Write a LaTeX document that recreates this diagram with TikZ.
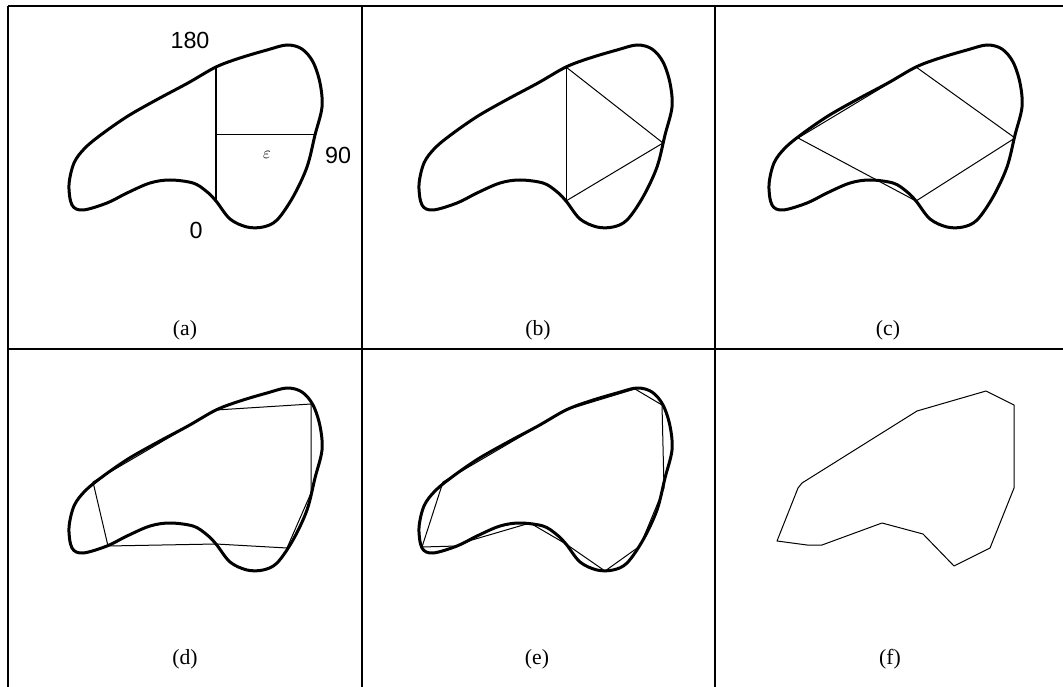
\documentclass[tikz,border=0pt]{standalone}
\usepackage{fontspec}
\setmainfont{Liberation Serif}
\newfontfamily\chiffres{Liberation Sans}

\tikzset{
    cadre/.style={line width=1.2pt},
    courbe/.style={line width=1.8pt, line join=round},
    corde/.style={line width=0.6pt, line join=round},
    legende/.style={font=\fontsize{13}{15}\selectfont},
    graduation/.style={font=\chiffres\fontsize{14}{16}\selectfont},
}

\begin{document}
\begin{tikzpicture}[x=0.6pt, y=-0.6pt]
    \useasboundingbox (0,0) rectangle (1063,687);

    % Grille du tableau
    \draw[cadre] (8,6) -- (1063,6);
    \draw[cadre] (8,349) -- (1063,349);
    \foreach \xc in {8,362,715}
        \draw[cadre] (\xc,6) -- (\xc,687);

    % Contour ferme, repris dans les cinq premieres cases
    \foreach \dx/\dy in {0/0,350/0,700/0,0/343,350/343}
        \draw[courbe, shift={(\dx,\dy)}] plot[smooth cycle, tension=0.55] coordinates {
            (69,185) (74,163) (85,148) (102,134) (128,116) (158,99)
            (188,83) (216,67) (240,58) (267,50) (287,45) (302,49) (313,62)
            (320,83) (322,107) (315,135) (307,167) (293,197) (277,220)
            (263,227) (247,227) (230,219) (216,201) (206,191) (193,183)
            (170,180) (150,183) (127,193) (107,203) (83,210) (72,205)};

    % (a) diametre et largeur
    \draw[line width=1.2pt] (216,67) -- (216,201);
    \draw[corde] (216,135) -- (315,135);
    \node[graduation] (g180) at (190,40) {180};
    \node[graduation] (g90) at (338,155) {90};
    \node[graduation] (g0) at (196,230) {0};
    \node (eps) at (267,155) {$\varepsilon$};
    \node[legende] (ca) at (185,330) {(a)};

    % (b) triangle
    \begin{scope}[shift={(350,0)}]
        \draw[corde] (216,67) -- (216,201);
        \draw[corde] (216,67) -- (313,143) -- (216,201);
    \end{scope}
    \node[legende] (cb) at (538,330) {(b)};

    % (c) losange
    \begin{scope}[shift={(700,0)}]
        \draw[corde] (216,67) -- (315,138) -- (216,201) -- (98,138) -- cycle;
    \end{scope}
    \node[legende] (cc) at (888,330) {(c)};

    % (d) sept sommets
    \begin{scope}[shift={(0,343)}]
        \draw[corde] (216,67) -- (311,61) -- (311,150) -- (287,205)
            -- (216,201) -- (108,203) -- (93,139) -- cycle;
    \end{scope}
    \node[legende] (cd) at (185,659) {(d)};

    % (e) polygone raffine
    \begin{scope}[shift={(350,343)}]
        \draw[corde] (285,46) -- (312,62) -- (314,145) -- (290,203)
            -- (255,228) -- (216,201) -- (180,180) -- (122,197)
            -- (107,203) -- (72,204) -- (93,139) -- (216,67) -- cycle;
    \end{scope}
    \node[legende] (ce) at (537,659) {(e)};

    % (f) polygone seul
    \begin{scope}[shift={(700,343)}]
        \draw[corde] (286,48) -- (314,62) -- (314,145) -- (290,205)
            -- (254,223) -- (223,191) -- (182,180) -- (122,202)
            -- (107,202) -- (77,198) -- (98,145) -- (102,140)
            -- (217,68) -- cycle;
    \end{scope}
    \node[legende] (cf) at (890,659) {(f)};
\end{tikzpicture}
\end{document}
